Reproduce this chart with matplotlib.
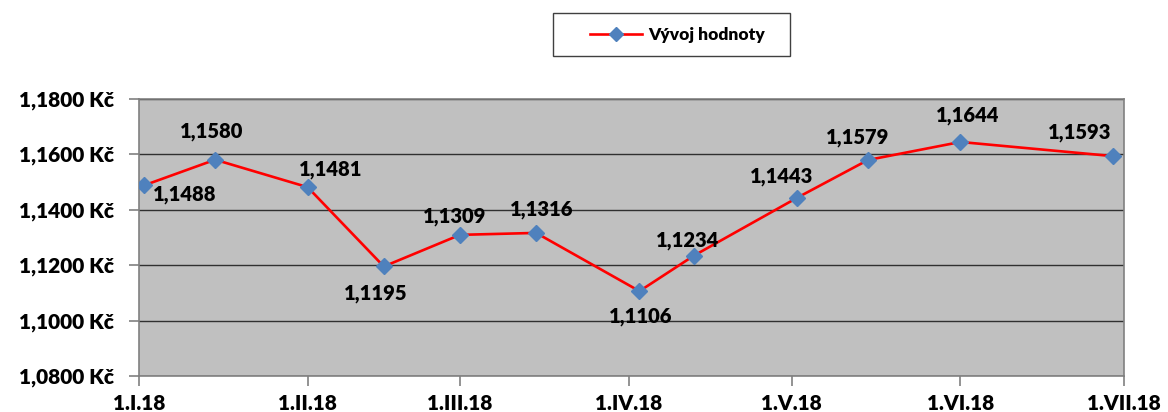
import matplotlib
matplotlib.use("Agg")
import matplotlib.pyplot as plt
from matplotlib.ticker import FuncFormatter, MultipleLocator
from matplotlib.patches import Rectangle
import datetime as dt

dates = ["2018-01-02", "2018-01-15", "2018-02-01", "2018-02-15", "2018-03-01", "2018-03-15",
         "2018-04-03", "2018-04-13", "2018-05-02", "2018-05-15", "2018-06-01", "2018-06-29"]
values = [1.1488, 1.1580, 1.1481, 1.1195, 1.1309, 1.1316,
          1.1106, 1.1234, 1.1443, 1.1579, 1.1644, 1.1593]
tick_dates = ["2018-01-01", "2018-02-01", "2018-03-01", "2018-04-01",
              "2018-05-01", "2018-06-01", "2018-07-01"]
tick_labels = ["1.I.18", "1.II.18", "1.III.18", "1.IV.18", "1.V.18", "1.VI.18", "1.VII.18"]
series_name = "Vývoj hodnoty"
# label offsets in pixels (dx, dy)
label_offsets = [(40, -9), (-4, 28), (23, 18), (-8, -27), (-5, 18), (6, 23),
                 (1, -25), (-6, 15), (-16, 21), (-10, 22), (7, 26), (-33, 24)]

plt.rcParams['font.family'] = ['Lato', 'DejaVu Sans']

fig = plt.figure(figsize=(11.68, 4.12), dpi=100)
ax = fig.add_axes([0.119, 0.0874, 0.843, 0.673])
ax.set_facecolor('#C0C0C0')

x = [dt.datetime.strptime(d, "%Y-%m-%d") for d in dates]
xt = [dt.datetime.strptime(d, "%Y-%m-%d") for d in tick_dates]

ax.plot(x, values, color='#FF0000', lw=1.9, marker='D', markersize=8,
        markerfacecolor='#4F81BD', markeredgecolor='#4F81BD', label=series_name, zorder=3)

for xi, v, (dx, dy) in zip(x, values, label_offsets):
    ax.annotate(f"{v:.4f}".replace('.', ','), (xi, v), xytext=(dx, dy),
                textcoords='offset pixels', ha='center', va='center',
                fontsize=14.5, fontweight='heavy', color='black', zorder=4)

ax.set_xlim(xt[0], xt[-1])
ax.set_ylim(1.08, 1.18)
ax.yaxis.set_major_locator(MultipleLocator(0.02))
ax.yaxis.set_major_formatter(FuncFormatter(lambda v, p: f"{v:.4f}".replace('.', ',') + " Kč"))
ax.set_xticks(xt)
ax.set_xticklabels(tick_labels)

ax.grid(axis='y', color='#303030', lw=1.0)
ax.set_axisbelow(True)
for s in ax.spines.values():
    s.set_color('#808080')
    s.set_linewidth(1.2)

ax.tick_params(axis='both', which='major', length=7, color='#808080', width=1.2,
               labelsize=15)
ax.tick_params(axis='x', pad=6)
ax.tick_params(axis='y', pad=11)
for lab in ax.get_xticklabels() + ax.get_yticklabels():
    lab.set_fontweight('heavy')

# legend frame
fig.patches.append(Rectangle((0.4735, 0.864), 0.2029, 0.104, transform=fig.transFigure,
                             facecolor='white', edgecolor='#404040', lw=1.0, zorder=0))
leg = fig.legend(loc='center', bbox_to_anchor=(0.580, 0.916), frameon=False,
                 prop={'size': 12.5, 'weight': 'heavy'}, handlelength=3.0,
                 handletextpad=0.35, borderaxespad=0)
for h in leg.legend_handles:
    h.set_markersize(7)

fig.savefig("out.png", dpi=100)
